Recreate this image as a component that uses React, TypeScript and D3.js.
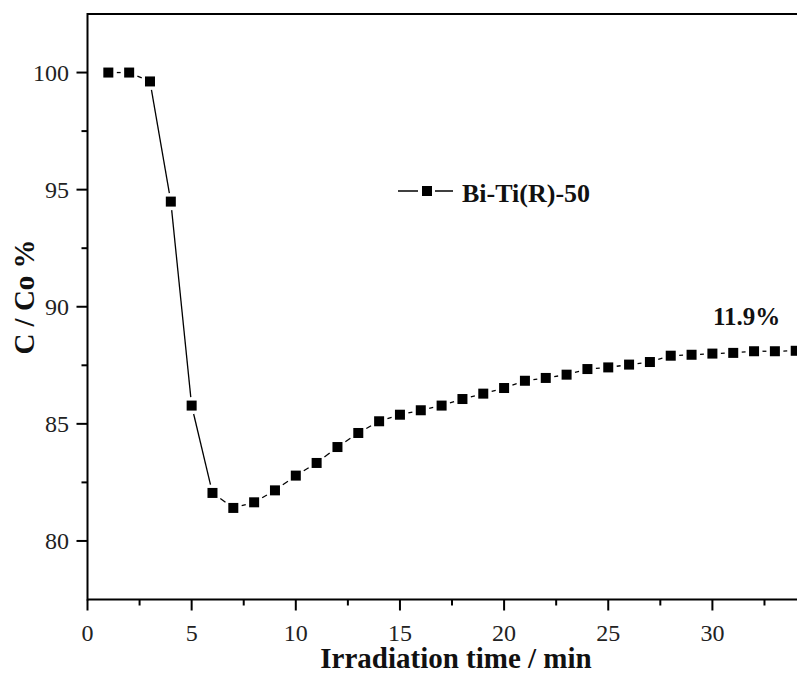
import React from 'react'
import { scaleLinear, range } from 'd3'

// irradiation time (min) and C/C0 (%)
const times = [1, 2, 3, 4, 5, 6, 7, 8, 9, 10, 11, 12, 13, 14, 15, 16, 17, 18, 19, 20, 21, 22, 23, 24, 25, 26, 27, 28, 29, 30, 31, 32, 33, 34]
const ratios = [
  100.0, 100.0, 99.62, 94.49, 85.78, 82.05, 81.41, 81.65, 82.16, 82.79,
  83.33, 84.01, 84.61, 85.11, 85.39, 85.58, 85.78, 86.06, 86.29, 86.53,
  86.84, 86.96, 87.1, 87.34, 87.41, 87.53, 87.64, 87.91, 87.95, 88.0,
  88.03, 88.1, 88.1, 88.12,
]
const xTicks = [0, 5, 10, 15, 20, 25, 30]
const yTicks = [80, 85, 90, 95, 100]
const seriesName = 'Bi-Ti(R)-50'
const note = '11.9%'

const W = 797
const H = 673
const FONT = '"Liberation Serif", "Times New Roman", serif'
const MARK = 10
const GAP = 3.5

function App() {
  const x = scaleLinear().domain([0, 35]).range([87.5, 87.5 + 35 * 20.83])
  const y = scaleLinear().domain([77.5, 102.5]).range([599.5, 14])

  const pts = times.map((t, i) => [x(t), y(ratios[i])])
  // line segments with a small gap around each symbol (Origin style)
  const segs = pts.slice(1).map((p, i) => {
    const q = pts[i]
    const dx = p[0] - q[0]
    const dy = p[1] - q[1]
    const len = Math.hypot(dx, dy)
    const ux = dx / len
    const uy = dy / len
    const d = MARK / 2 / Math.max(Math.abs(ux), Math.abs(uy)) + GAP
    if (2 * d >= len) return null
    return [q[0] + ux * d, q[1] + uy * d, p[0] - ux * d, p[1] - uy * d]
  })

  const xMinor = range(2.5, 35, 5)
  const yMinor = [82.5, 87.5, 92.5, 97.5]
  const left = x(0)
  const bottom = y(77.5)
  const top = y(102.5)

  return (
    <svg
      width={W}
      height={H}
      style={{ position: 'absolute', left: 0, top: 0, display: 'block', background: '#fff' }}
      fontFamily={FONT}
    >
      {/* frame */}
      <g stroke="#000" strokeWidth={2} fill="none">
        <line x1={left} y1={top} x2={W + 10} y2={top} />
        <line x1={left} y1={bottom} x2={W + 10} y2={bottom} />
        <line x1={left} y1={top - 1} x2={left} y2={bottom + 1} />
      </g>

      {/* ticks */}
      <g stroke="#000" strokeWidth={2}>
        {xTicks.map(t => (
          <line key={t} x1={x(t)} x2={x(t)} y1={bottom} y2={bottom + 11} />
        ))}
        {xMinor.map(t => (
          <line key={t} x1={x(t)} x2={x(t)} y1={bottom} y2={bottom + 6} />
        ))}
        {yTicks.map(t => (
          <line key={t} x1={left} x2={left - 11} y1={y(t)} y2={y(t)} />
        ))}
        {yMinor.map(t => (
          <line key={t} x1={left} x2={left - 6} y1={y(t)} y2={y(t)} />
        ))}
      </g>
      <g fontSize={24} fill="#222">
        {xTicks.map(t => (
          <text key={t} x={x(t)} y={641} textAnchor="middle">
            {t}
          </text>
        ))}
        {yTicks.map(t => (
          <text key={t} x={69} y={y(t) + 8.5} textAnchor="end">
            {t}
          </text>
        ))}
      </g>

      {/* axis titles */}
      <text x={456} y={668} fontSize={29} fontWeight="bold" textAnchor="middle" fill="#111">
        Irradiation time / min
      </text>
      <text
        transform={`translate(34,297) rotate(-90)`}
        fontSize={29}
        fontWeight="bold"
        textAnchor="middle"
        fill="#111"
      >
        C / Co %
      </text>

      {/* series */}
      <g stroke="#000" strokeWidth={1.3}>
        {segs.map((s, i) =>
          s ? <line key={i} x1={s[0]} y1={s[1]} x2={s[2]} y2={s[3]} /> : null
        )}
      </g>
      <g fill="#000">
        {pts.map((p, i) => (
          <rect key={i} x={p[0] - MARK / 2} y={p[1] - MARK / 2} width={MARK} height={MARK} />
        ))}
      </g>

      {/* legend */}
      <g stroke="#000" strokeWidth={1.5}>
        <line x1={398} x2={418} y1={191} y2={191} />
        <line x1={435} x2={453} y1={191} y2={191} />
      </g>
      <rect x={422} y={186} width={10} height={10} fill="#000" />
      <text x={462} y={202} fontSize={26} fontWeight="bold" fill="#111">
        {seriesName}
      </text>

      <text x={713} y={325} fontSize={25} fontWeight="bold" fill="#111">
        {note}
      </text>
    </svg>
  )
}

export default App
